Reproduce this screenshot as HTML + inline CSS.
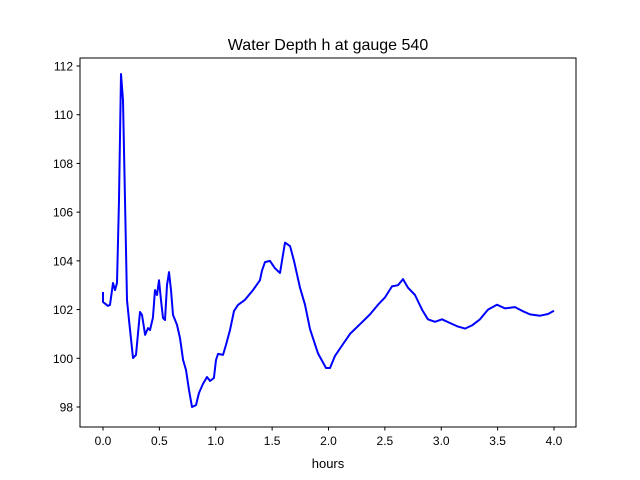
<!DOCTYPE html>
<html><head><meta charset="utf-8"><style>
body{margin:0;background:#fff;}
svg{display:block;font-family:"Liberation Sans",sans-serif;}
</style></head><body>
<svg id="chart" width="640" height="480">
<rect x="0" y="0" width="640" height="480" fill="#fff"/>
<text x="328" y="50" font-size="16" text-anchor="middle">Water Depth h at gauge 540</text>
<g id="ticks"></g>
<polyline id="series" fill="none" stroke="#0000ff" stroke-width="2" stroke-linejoin="round"/>
<rect x="80" y="58" width="496" height="369" fill="none" stroke="#000" stroke-width="1"/>
<text x="328" y="468" font-size="13" text-anchor="middle">hours</text>
</svg>
<script>
const hours=[0.0,0.0,0.044,0.062,0.089,0.106,0.124,0.142,0.160,0.177,0.195,0.213,0.231,0.266,0.293,0.328,0.346,0.373,0.399,0.417,0.443,0.461,0.479,0.497,0.514,0.532,0.550,0.568,0.585,0.603,0.621,0.656,0.683,0.710,0.736,0.763,0.789,0.825,0.851,0.887,0.922,0.949,0.984,1.002,1.020,1.064,1.091,1.126,1.162,1.197,1.259,1.330,1.392,1.410,1.437,1.481,1.525,1.570,1.614,1.659,1.694,1.747,1.792,1.836,1.907,1.978,2.013,2.058,2.102,2.191,2.279,2.368,2.439,2.501,2.563,2.616,2.661,2.705,2.767,2.829,2.882,2.945,3.007,3.078,3.149,3.211,3.273,3.344,3.415,3.494,3.565,3.654,3.716,3.787,3.876,3.947,4.0];
const depth=[102.72,102.31,102.15,102.19,103.09,102.8,103.09,106.5,111.67,110.6,106.5,102.39,101.57,100.01,100.14,101.9,101.78,100.96,101.24,101.16,101.66,102.8,102.6,103.2,102.39,101.66,101.57,103.0,103.54,102.8,101.78,101.37,100.83,99.93,99.52,98.7,98.0,98.08,98.58,98.95,99.23,99.07,99.19,99.93,100.18,100.14,100.55,101.16,101.94,102.19,102.4,102.8,103.2,103.6,103.95,104.0,103.7,103.5,104.75,104.6,104.0,102.9,102.2,101.2,100.2,99.6,99.6,100.1,100.4,101.0,101.4,101.8,102.2,102.5,102.95,103.0,103.25,102.9,102.6,102.0,101.6,101.5,101.6,101.45,101.3,101.22,101.35,101.6,102.0,102.2,102.05,102.1,101.95,101.8,101.75,101.82,101.95];
const xTicks=[0.0,0.5,1.0,1.5,2.0,2.5,3.0,3.5,4.0];
const yTicks=[98,100,102,104,106,108,110,112];
const xs=v=>103+v*112.75;
const ys=v=>407-(v-98)*24.357;
const NS='http://www.w3.org/2000/svg';
const g=document.getElementById('ticks');
function mk(tag,attrs){const e=document.createElementNS(NS,tag);for(const k in attrs)e.setAttribute(k,attrs[k]);return e;}
xTicks.forEach(t=>{
  const l=mk('line',{x1:xs(t),x2:xs(t),y1:427,y2:430.5,stroke:'#000'});
  
  
  g.appendChild(l);
  const tx=mk('text',{x:xs(t),y:445,'font-size':12,'text-anchor':'middle'});
  tx.textContent=t.toFixed(1);
  
  
  g.appendChild(tx);
});
yTicks.forEach(t=>{
  const l=mk('line',{x1:76.5,x2:80,y1:ys(t),y2:ys(t),stroke:'#000'});
  
  
  g.appendChild(l);
  const tx=mk('text',{x:73,y:ys(t)+4.5,'font-size':12,'text-anchor':'end'});
  tx.textContent=t;
  
  
  g.appendChild(tx);
});
document.getElementById('series').setAttribute('points',hours.map((h,i)=>xs(h).toFixed(1)+','+ys(depth[i]).toFixed(1)).join(' '));
</script>
</body></html>
